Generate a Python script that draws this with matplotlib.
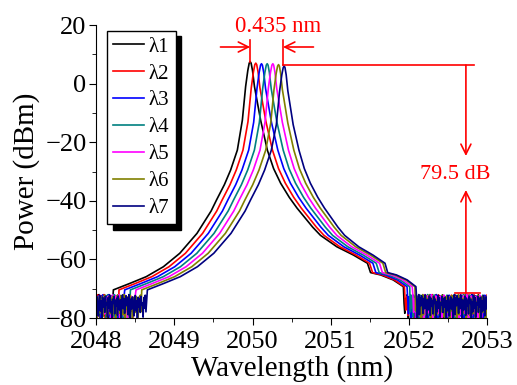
import numpy as np
import matplotlib.pyplot as plt
from matplotlib.ticker import MultipleLocator

plt.rcParams['font.family'] = ['Liberation Serif', 'DejaVu Serif']

# channel data
labels = ['λ1', 'λ2', 'λ3', 'λ4', 'λ5', 'λ6', 'λ7']
colors = ['black', 'red', 'blue', '#008080', 'magenta', '#808000', '#000080']
peak_wl = [2049.970, 2050.042, 2050.115, 2050.188, 2050.260, 2050.333, 2050.405]
peak_pow = [7.5, 7.0, 6.8, 6.8, 6.8, 6.5, 6.0]
right_width = [1.00, 0.97, 0.95, 0.93, 0.91, 0.89, 0.86]

# line shape of λ1 relative to its peak (nm offset, dBm)
left_off = [-1.75, -1.54, -1.33, -1.11, -0.90, -0.68, -0.50, -0.43, -0.33, -0.25, -0.164, -0.10, -0.058, -0.03, -0.012]
left_pow = [-70.4, -68.2, -65.9, -62.5, -57.9, -51.1, -43.5, -39.7, -34.5, -29.5, -22.7, -12.5, -1.0, 4.5, 7.0]
right_off = [0.012, 0.03, 0.055, 0.134, 0.22, 0.30, 0.39, 0.50, 0.60, 0.69, 0.80, 0.90, 1.11, 1.32, 1.50, 1.54, 1.67, 1.83, 1.96]
right_pow = [7.0, 4.5, -1.0, -12.5, -22.7, -29.0, -34.0, -38.8, -42.5, -45.4, -49.0, -51.8, -55.7, -58.5, -61.3, -64.5, -65.3, -67.0, -69.3]

# noise floor samples (dBm)
noise = [-72.4, -75.8, -73.1, -78.9, -72.0, -74.6, -80.0, -73.5, -76.9, -72.8,
         -75.2, -79.3, -73.9, -72.3, -77.6, -74.1, -80.0, -72.9, -76.2, -73.4,
         -78.1, -72.6, -75.5, -74.8, -79.7, -73.0, -76.6, -72.2, -77.9, -74.4,
         -80.0, -73.6, -75.0, -72.7, -78.6, -74.0, -76.0, -73.2, -79.1, -72.5,
         -75.7, -77.3, -73.8, -80.0, -74.3, -72.1, -76.8, -73.3, -78.4, -75.1]

fig = plt.figure(figsize=(5.17, 3.85), dpi=100)
ax = fig.add_axes([0.186, 0.174, 0.756, 0.761])

for i in range(7):
    c = peak_wl[i]
    dp = peak_pow[i] - 7.5
    xl = c + np.array(left_off)
    yl = np.array(left_pow) + dp * (np.array(left_pow) > -20)
    xr = c + np.array(right_off) * right_width[i]
    yr = np.array(right_pow) + dp * (np.array(right_pow) > -20)
    nz = np.roll(noise, i * 7)
    nl = max(int((xl[0] - 2048) * 110), 2)
    nr = max(int((2053 - xr[-1]) * 110), 2)
    xnl = np.linspace(2048, xl[0], nl, endpoint=False)
    xnr = np.linspace(xr[-1], 2053, nr + 1)[1:]
    x = np.concatenate([xnl, xl, [c], xr, xnr])
    y = np.concatenate([np.resize(nz, nl), yl, [peak_pow[i]], yr, np.resize(nz[::-1], nr)])
    ax.plot(x, y, color=colors[i], lw=1.2, label=labels[i])

ax.set_xlim(2048, 2053)
ax.set_ylim(-80, 20)
ax.xaxis.set_major_locator(MultipleLocator(1))
ax.xaxis.set_minor_locator(MultipleLocator(0.5))
ax.yaxis.set_major_locator(MultipleLocator(20))
ax.yaxis.set_minor_locator(MultipleLocator(10))
ax.tick_params(which='both', direction='out', labelsize=19, colors='black')
ax.tick_params(axis='x', pad=4)
ax.tick_params(axis='y', pad=2)
ax.tick_params(which='major', length=5)
ax.tick_params(which='minor', length=3)
for s in ['top', 'right']:
    ax.spines[s].set_visible(False)
ax.set_xlabel('Wavelength (nm)', fontsize=21, labelpad=2)
ax.set_ylabel('Power (dBm)', fontsize=21, labelpad=4)

leg = ax.legend(loc='upper left', bbox_to_anchor=(0.028, 0.98), borderaxespad=0, fontsize=15,
                frameon=True, fancybox=False, edgecolor='black', handlelength=1.45,
                handletextpad=0.25, labelspacing=0.35, borderpad=0.3,
                shadow={'color': 'black', 'alpha': 1, 'ox': 4, 'oy': -4})
leg.get_frame().set_linewidth(1.0)

# annotations
red = 'red'
ap = dict(arrowstyle='->', color=red, lw=1.2, mutation_scale=18, shrinkA=0, shrinkB=0)
ax.plot([2049.97, 2049.97], [7.4, 15.0], color=red, lw=1.2, clip_on=False)
ax.plot([2050.39, 2050.39], [6.35, 15.0], color=red, lw=1.2, clip_on=False)
ax.annotate('', xy=(2049.97, 12.5), xytext=(2049.59, 12.5), arrowprops=ap, annotation_clip=False)
ax.annotate('', xy=(2050.39, 12.5), xytext=(2050.78, 12.5), arrowprops=ap, annotation_clip=False)
ax.text(2050.33, 19.6, '0.435 nm', color=red, fontsize=16.5, ha='center', va='center', clip_on=False)
ax.plot([2050.39, 2052.83], [6.35, 6.35], color=red, lw=1.2)
ax.annotate('', xy=(2052.73, -24.7), xytext=(2052.73, 6.35), arrowprops=ap)
ax.annotate('', xy=(2052.73, -36.3), xytext=(2052.73, -71.5), arrowprops=ap)
ax.plot([2052.59, 2052.91], [-71.5, -71.5], color=red, lw=1.2)
ax.text(2052.59, -31.0, '79.5 dB', color=red, fontsize=16, ha='center', va='center')

fig.savefig('out.png', dpi=100)
